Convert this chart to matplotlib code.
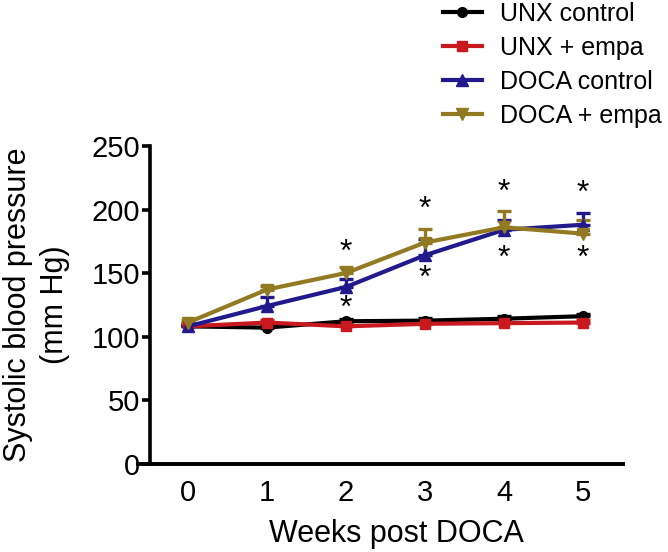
import matplotlib.pyplot as plt

plt.rcParams['font.family'] = ['Liberation Sans', 'DejaVu Sans']

weeks = [0, 1, 2, 3, 4, 5]

unx_control = [108, 107, 112, 112.5, 114, 116]
unx_control_err = [2, 2, 2, 2, 2, 2]
unx_empa = [108, 111, 108, 110, 110.5, 111]
unx_empa_err = [2, 2, 2, 2, 2, 2]
doca_control = [108, 124, 139, 164, 184, 188]
doca_control_err = [2, 7, 6, 13, 8, 9]
doca_empa = [111, 137, 150, 174, 186, 181]
doca_empa_err = [2, 3, 5, 11, 13, 11]

series_labels = ['UNX control', 'UNX + empa', 'DOCA control', 'DOCA + empa']

# significance stars (week, y position)
star_weeks = [2, 2, 3, 3, 4, 4, 5, 5]
star_y = [166, 122, 200, 145, 213, 161, 212, 161]

fig = plt.figure(figsize=(6.68, 5.52), dpi=100)
ax = fig.add_axes([0.2066, 0.1603, 0.726, 0.5752])

styles = [
    (unx_control, unx_control_err, 'black', 'o', 7),
    (unx_empa, unx_empa_err, '#c8191f', 's', 7),
    (doca_control, doca_control_err, '#221a8c', '^', 8),
    (doca_empa, doca_empa_err, '#927a23', 'v', 8),
]

handles = []
for (vals, err, col, mk, ms), lab in zip(styles, series_labels):
    c = ax.errorbar(weeks, vals, yerr=[[0] * len(err), err], color=col, marker=mk,
                    markersize=ms, linewidth=3, elinewidth=2.4, capsize=5,
                    capthick=2.4, label=lab)
    handles.append(c.lines[0])

for xw, ys in zip(star_weeks, star_y):
    ax.text(xw, ys, '*', ha='center', va='center', fontsize=23)

ax.set_xlim(-0.633, 5.506)
ax.set_ylim(0, 250)
ax.set_yticks([0, 50, 100, 150, 200, 250])
ax.set_xticks(weeks)

ax.spines['top'].set_visible(False)
ax.spines['right'].set_visible(False)
ax.spines['left'].set_position(('data', -0.48))
ax.spines['left'].set_linewidth(2.6)
ax.spines['bottom'].set_linewidth(2.8)
ax.spines['left'].set_bounds(0, 250)

ax.tick_params(axis='y', length=6, width=2.6, labelsize=21, pad=1)
ax.tick_params(axis='x', length=0, labelsize=21, pad=11)

ax.set_xlabel('Weeks post DOCA', fontsize=22, labelpad=12)
ax.xaxis.set_label_coords(0.532, -0.175)
ax.set_ylabel('Systolic blood pressure\n(mm Hg)', fontsize=22, labelpad=16,
              linespacing=1.3)

ax.legend(handles=handles, labels=series_labels, loc='upper left',
          bbox_to_anchor=(0.663, 0.997), bbox_transform=fig.transFigure,
          frameon=False, fontsize=18, handlelength=1.55, handletextpad=0.72,
          labelspacing=0.4, borderaxespad=0, borderpad=0)

fig.savefig('out.png', dpi=100)
